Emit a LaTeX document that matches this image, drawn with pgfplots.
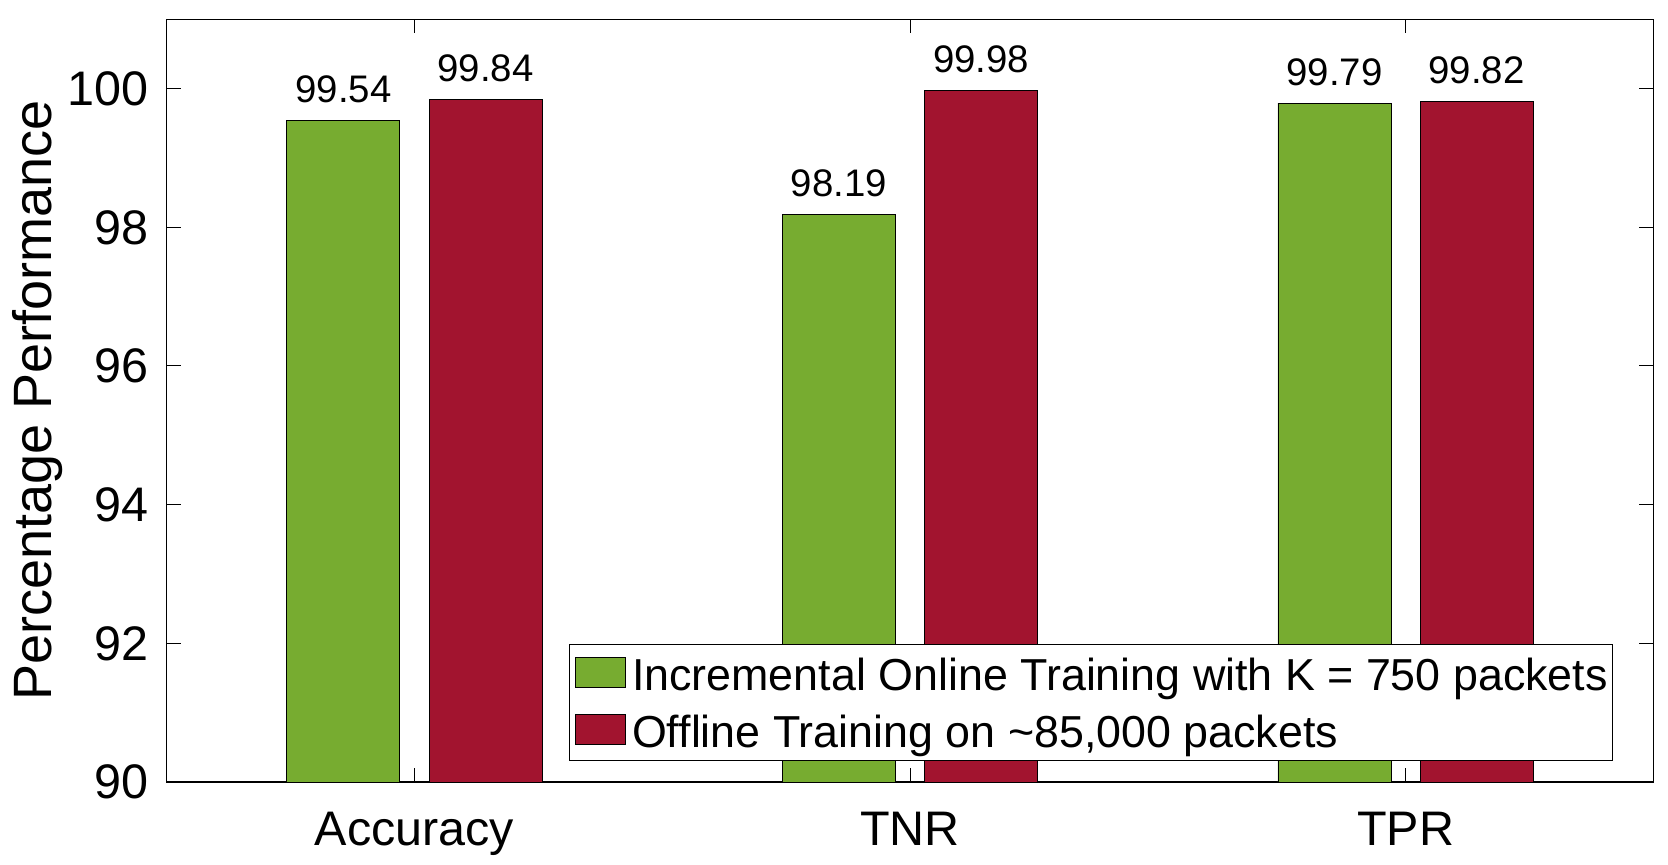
\documentclass[border=0pt]{standalone}
\usepackage{fontspec}
\setmainfont{Liberation Sans}
\usepackage{pgfplots}
\pgfplotsset{compat=1.18}
\definecolor{mgreen}{RGB}{119,172,48}
\definecolor{mred}{RGB}{162,20,47}

\begin{document}
\begin{tikzpicture}
\begin{axis}[
    scale only axis,
    width=743.3pt, height=381.35pt,
    ybar, bar width=0.228,
    xmin=0.5, xmax=3.5, ymin=90, ymax=101,
    xtick={1,2,3}, xticklabels={Accuracy,TNR,TPR},
    ytick={90,92,...,100},
    tick align=inside,
    major tick length=7pt,
    tick style={black, line width=0.5pt},
    axis line style={black, line width=0.6pt},
    /pgf/number format/assume math mode=true,
    ticklabel style={font=\fontsize{24.25}{29}\selectfont, inner sep=0pt},
    xticklabel style={yshift=-15pt},
    yticklabel style={xshift=-9pt},
    ylabel={Percentage Performance},
    ylabel style={font=\fontsize{27}{32}\selectfont, at={(axis description cs:-0.0774,0.5)}, anchor=base, inner sep=0pt},
    nodes near coords={\pgfmathprintnumber[fixed,fixed zerofill,precision=2]{\pgfplotspointmeta}},
    every node near coord/.append style={font=\fontsize{19.2}{23}\selectfont, anchor=base, yshift=9pt, black, inner sep=0pt},
    legend image code/.code={\draw[#1, draw=black, line width=0.4pt] (0pt,-6.5pt) rectangle (25pt,8.5pt);},
    legend cell align=left,
    legend style={at={(0.9731,0.0271)}, anchor=south east,
        font=\fontsize{22.4}{27}\selectfont,
        draw=black, line width=0.5pt, fill=white,
        inner xsep=2.5pt, inner ysep=0.7pt, row sep=0pt,
        nodes={inner sep=0pt, text height=22.4pt, text depth=5.95pt},
        /tikz/every odd column/.append style={column sep=3.35pt}},
]
\addplot[bar shift=-0.1435, fill=mgreen, draw=black, line width=0.4pt]
    coordinates {(1,99.54) (2,98.19) (3,99.79)};
\addlegendentry{Incremental Online Training with K = 750 packets}
\addplot[bar shift=0.1435, fill=mred, draw=black, line width=0.4pt]
    coordinates {(1,99.84) (2,99.98) (3,99.82)};
\addlegendentry{Offline Training on \textasciitilde85,000 packets}
\end{axis}
\pgfresetboundingbox
\path ([shift={(-83.35pt,-41pt)}]current axis.south west) rectangle ([shift={(7.35pt,9.65pt)}]current axis.north east);
\end{tikzpicture}
\end{document}
